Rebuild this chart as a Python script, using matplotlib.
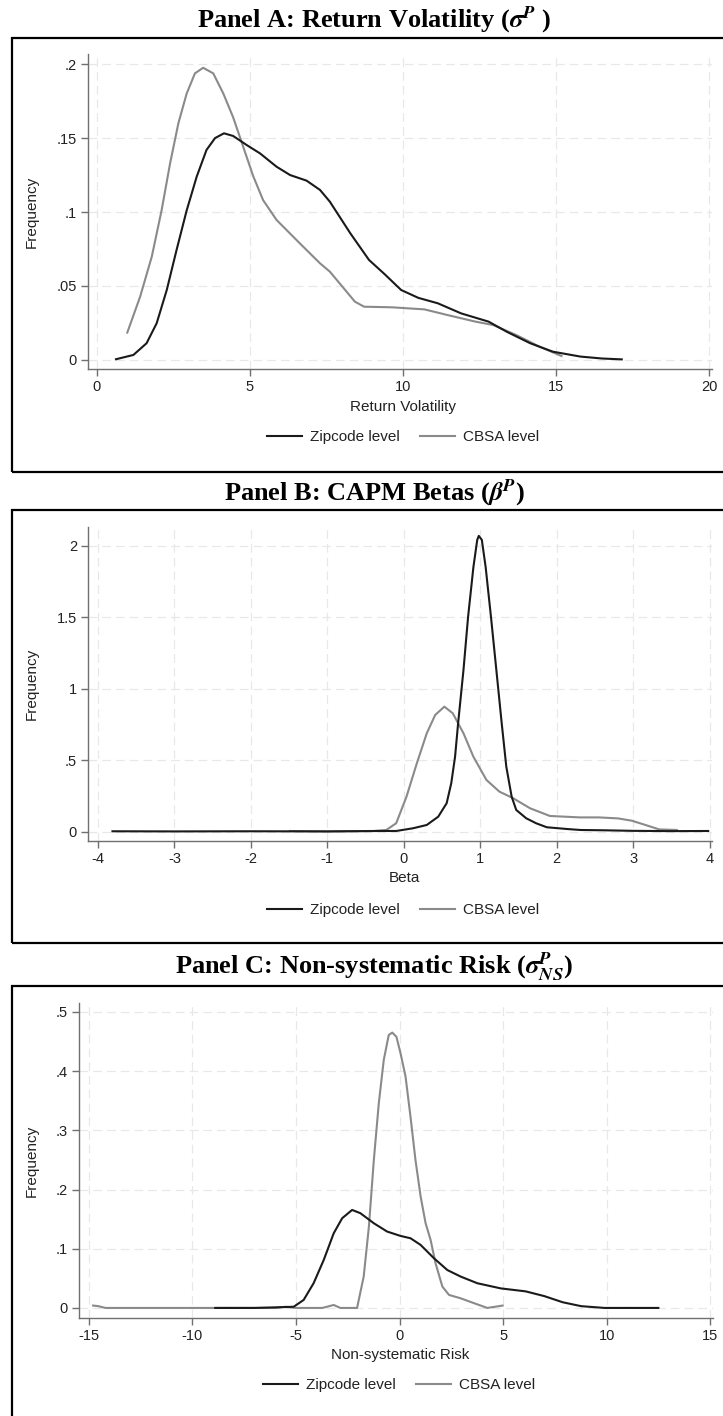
import numpy as np
import matplotlib.pyplot as plt
from matplotlib.patches import Rectangle

# -----------------------------
# Density curves read per panel
# -----------------------------
a_zip_x = [0.62, 1.19, 1.62, 1.95, 2.28, 2.6, 2.93, 3.26, 3.58, 3.86, 4.15, 4.45, 4.89, 5.33,
           5.87, 6.31, 6.85, 7.29, 7.61, 8.28, 8.89, 9.4, 9.94, 10.5, 11.14, 11.9, 12.8,
           13.4, 14.16, 14.9, 15.8, 16.5, 17.15]
a_zip_y = [0.0005, 0.0034, 0.0113, 0.0248, 0.0473, 0.0743, 0.101, 0.124, 0.142, 0.150,
           0.1532, 0.1514, 0.1453, 0.1396, 0.1306, 0.125, 0.1212, 0.1149, 0.107, 0.0856,
           0.0676, 0.058, 0.0473, 0.042, 0.0383, 0.0315, 0.0259, 0.019, 0.0113, 0.0056,
           0.0023, 0.001, 0.0004]
a_cbsa_x = [0.99, 1.41, 1.79, 2.11, 2.39, 2.66, 2.93, 3.2, 3.47, 3.8, 4.13, 4.45, 4.78, 5.11,
            5.43, 5.87, 6.63, 7.29, 7.61, 8.43, 8.73, 9.64, 10.7, 11.45, 12.35, 12.95,
            13.7, 14.46, 15.18]
a_cbsa_y = [0.0185, 0.0428, 0.0698, 0.101, 0.133, 0.160, 0.180, 0.1937, 0.1975, 0.1937,
            0.180, 0.164, 0.144, 0.124, 0.108, 0.0946, 0.0788, 0.0653, 0.0597, 0.0394,
            0.036, 0.0356, 0.0342, 0.0304, 0.026, 0.0236, 0.0169, 0.009, 0.0027]

b_zip_x = [-3.81, -3.0, -2.0, -1.0, -0.31, -0.1, 0.12, 0.3, 0.45, 0.56, 0.62, 0.67, 0.71,
           0.78, 0.84, 0.91, 0.96, 0.98, 1.02, 1.07, 1.14, 1.21, 1.28, 1.34, 1.41, 1.47,
           1.6, 1.73, 1.87, 2.13, 2.31, 2.6, 3.0, 3.5, 3.98]
b_zip_y = [0.003, 0.002, 0.003, 0.002, 0.005, 0.005, 0.024, 0.047, 0.105, 0.199, 0.338,
           0.524, 0.758, 1.13, 1.50, 1.85, 2.04, 2.068, 2.04, 1.85, 1.50, 1.13, 0.758,
           0.455, 0.245, 0.152, 0.094, 0.059, 0.031, 0.019, 0.012, 0.01, 0.006, 0.004,
           0.005]
b_cbsa_x = [-1.49, -1.0, -0.6, -0.4, -0.23, -0.1, 0.035, 0.17, 0.3, 0.41, 0.53, 0.64, 0.78,
            0.91, 1.08, 1.25, 1.43, 1.65, 1.91, 2.3, 2.55, 2.8, 2.98, 3.16, 3.34, 3.57]
b_cbsa_y = [0.005, 0.002, 0.004, 0.005, 0.012, 0.059, 0.245, 0.478, 0.688, 0.816, 0.874,
            0.828, 0.688, 0.524, 0.362, 0.28, 0.234, 0.164, 0.11, 0.10, 0.10, 0.093,
            0.077, 0.047, 0.016, 0.012]

c_zip_x = [-8.9, -7.0, -5.96, -5.11, -4.63, -4.15, -3.66, -3.18, -2.77, -2.29, -1.89,
           -1.24, -0.6, 0.05, 0.53, 1.02, 1.66, 2.31, 2.95, 3.76, 4.89, 6.09, 6.99, 7.88,
           8.77, 9.9, 11.0, 12.5]
c_zip_y = [0.0, 0.0, 0.001, 0.002, 0.0135, 0.0417, 0.081, 0.126, 0.1515, 0.1655, 0.16,
           0.143, 0.129, 0.1216, 0.1177, 0.1064, 0.084, 0.064, 0.053, 0.0417, 0.033,
           0.028, 0.020, 0.0096, 0.003, 0.0, 0.0, 0.0]
c_cbsa_x = [-14.8, -14.55, -14.2, -10.0, -6.0, -5.5, -5.0, -3.73, -3.5, -3.18, -2.86,
            -2.05, -1.73, -1.48, -1.24, -1.0, -0.76, -0.52, -0.35, -0.15, 0.05, 0.29,
            0.53, 0.77, 1.02, 1.26, 1.5, 1.74, 2.07, 2.39, 2.95, 3.6, 4.24, 4.98]
c_cbsa_y = [0.004, 0.003, 0.0, 0.0, 0.0, 0.002, 0.0, 0.0, 0.002, 0.005, 0.0, 0.0, 0.053,
            0.137, 0.25, 0.346, 0.419, 0.461, 0.465, 0.458, 0.43, 0.391, 0.323, 0.25,
            0.188, 0.143, 0.115, 0.0755, 0.036, 0.022, 0.0163, 0.008, 0.0, 0.004]

# tick values and their labels
a_xticks = [0, 5, 10, 15, 20]
a_yticks = [0, 0.05, 0.1, 0.15, 0.2]
a_ylabels = ["0", ".05", ".1", ".15", ".2"]
b_xticks = [-4, -3, -2, -1, 0, 1, 2, 3, 4]
b_yticks = [0, 0.5, 1, 1.5, 2]
b_ylabels = ["0", ".5", "1", "1.5", "2"]
c_xticks = [-15, -10, -5, 0, 5, 10, 15]
c_yticks = [0, 0.1, 0.2, 0.3, 0.4, 0.5]
c_ylabels = ["0", ".1", ".2", ".3", ".4", ".5"]

titles = [r"Panel A: Return Volatility ($\mathbfit{\sigma}^{\mathbfit{P}}$ )",
          r"Panel B: CAPM Betas ($\mathbfit{\beta}^{\mathbfit{P}}$)",
          r"Panel C: Non-systematic Risk ($\mathbfit{\sigma}^{\mathbfit{P}}_{\mathbfit{NS}}$)"]
xlabels = ["Return Volatility", "Beta", "Non-systematic Risk"]
series_names = ["Zipcode level", "CBSA level"]

# -----------------------------
# Figure layout (pixel based)
# -----------------------------
W, H = 723, 1416
plt.rcParams["font.family"] = ["Liberation Sans", "DejaVu Sans"]
plt.rcParams["mathtext.fontset"] = "stix"
fig = plt.figure(figsize=(W / 100, H / 100), dpi=100)
fig.patch.set_facecolor("white")

ZIP_COLOR = "#1a1a1a"
CBSA_COLOR = "#8a8a8a"
TEXT_COLOR = "#222222"

panels = [
    # axes box (left, top, right, bottom) in px, limits, title / frame / label rows
    dict(box=(88, 54, 712, 369), xlim=(-0.294, 20.1), ylim=(-0.0061, 0.2068),
         title_y=20, frame=(38, 472), xlab_y=407, leg=(403, 437), xlab_x=403,
         data=(a_zip_x, a_zip_y, a_cbsa_x, a_cbsa_y),
         xt=a_xticks, yt=a_yticks, yl=a_ylabels),
    dict(box=(88, 527, 712, 841), xlim=(-4.13, 4.03), ylim=(-0.065, 2.13),
         title_y=493, frame=(510, 943), xlab_y=878, leg=(403, 910), xlab_x=404,
         data=(b_zip_x, b_zip_y, b_cbsa_x, b_cbsa_y),
         xt=b_xticks, yt=b_yticks, yl=b_ylabels),
    dict(box=(79, 1003, 713, 1318), xlim=(-15.48, 15.14), ylim=(-0.017, 0.515),
         title_y=967, frame=(986, 1440), xlab_y=1355, leg=(399, 1385), xlab_x=400,
         data=(c_zip_x, c_zip_y, c_cbsa_x, c_cbsa_y),
         xt=c_xticks, yt=c_yticks, yl=c_ylabels),
]

for i, p in enumerate(panels):
    l, t, r, b = p["box"]
    ax = fig.add_axes([l / W, 1 - b / H, (r - l) / W, (b - t) / H])

    # outer frame around each graph
    ft, fb = p["frame"]
    fig.patches.append(Rectangle((12 / W, 1 - fb / H), 1.0, (fb - ft) / H,
                                 transform=fig.transFigure, fill=False,
                                 edgecolor="black", lw=1.6, zorder=0))

    fig.text(374 / W, 1 - p["title_y"] / H, titles[i], ha="center", va="center",
             family="Liberation Serif", weight="bold", fontsize=19)

    zx, zy, cx, cy = p["data"]
    ax.plot(zx, zy, color=ZIP_COLOR, lw=1.5, label=series_names[0], zorder=3,
            solid_joinstyle="round")
    ax.plot(cx, cy, color=CBSA_COLOR, lw=1.5, label=series_names[1], zorder=2,
            solid_joinstyle="round")

    ax.set_xlim(*p["xlim"])
    ax.set_ylim(*p["ylim"])
    ax.set_xticks(p["xt"])
    ax.set_xticklabels([str(v) for v in p["xt"]])
    ax.set_yticks(p["yt"])
    ax.set_yticklabels(p["yl"])
    ax.grid(True, color="#e8e8e8", lw=0.9, ls=(0, (7, 4)))
    ax.set_axisbelow(True)

    for side in ["top", "right"]:
        ax.spines[side].set_visible(False)
    for side in ["left", "bottom"]:
        ax.spines[side].set_color("#707070")
        ax.spines[side].set_linewidth(1.0)
    ax.tick_params(direction="out", length=5, width=1.0, color="#707070",
                   labelsize=10.5, labelcolor=TEXT_COLOR, pad=3)

    ax.set_ylabel("Frequency", fontsize=11, color=TEXT_COLOR)
    ax.yaxis.set_label_coords((39 - l) / (r - l), 0.5)
    fig.text(p["xlab_x"] / W, 1 - p["xlab_y"] / H, xlabels[i], ha="center", va="center",
             fontsize=11, color=TEXT_COLOR)

    lx, ly = p["leg"]
    ax.legend(loc="center", bbox_to_anchor=(lx / W, 1 - ly / H),
              bbox_transform=fig.transFigure, ncol=2, frameon=False,
              fontsize=11, handlelength=2.3, columnspacing=1.3, handletextpad=0.5,
              labelcolor=TEXT_COLOR)

fig.savefig("out.png", dpi=100)
